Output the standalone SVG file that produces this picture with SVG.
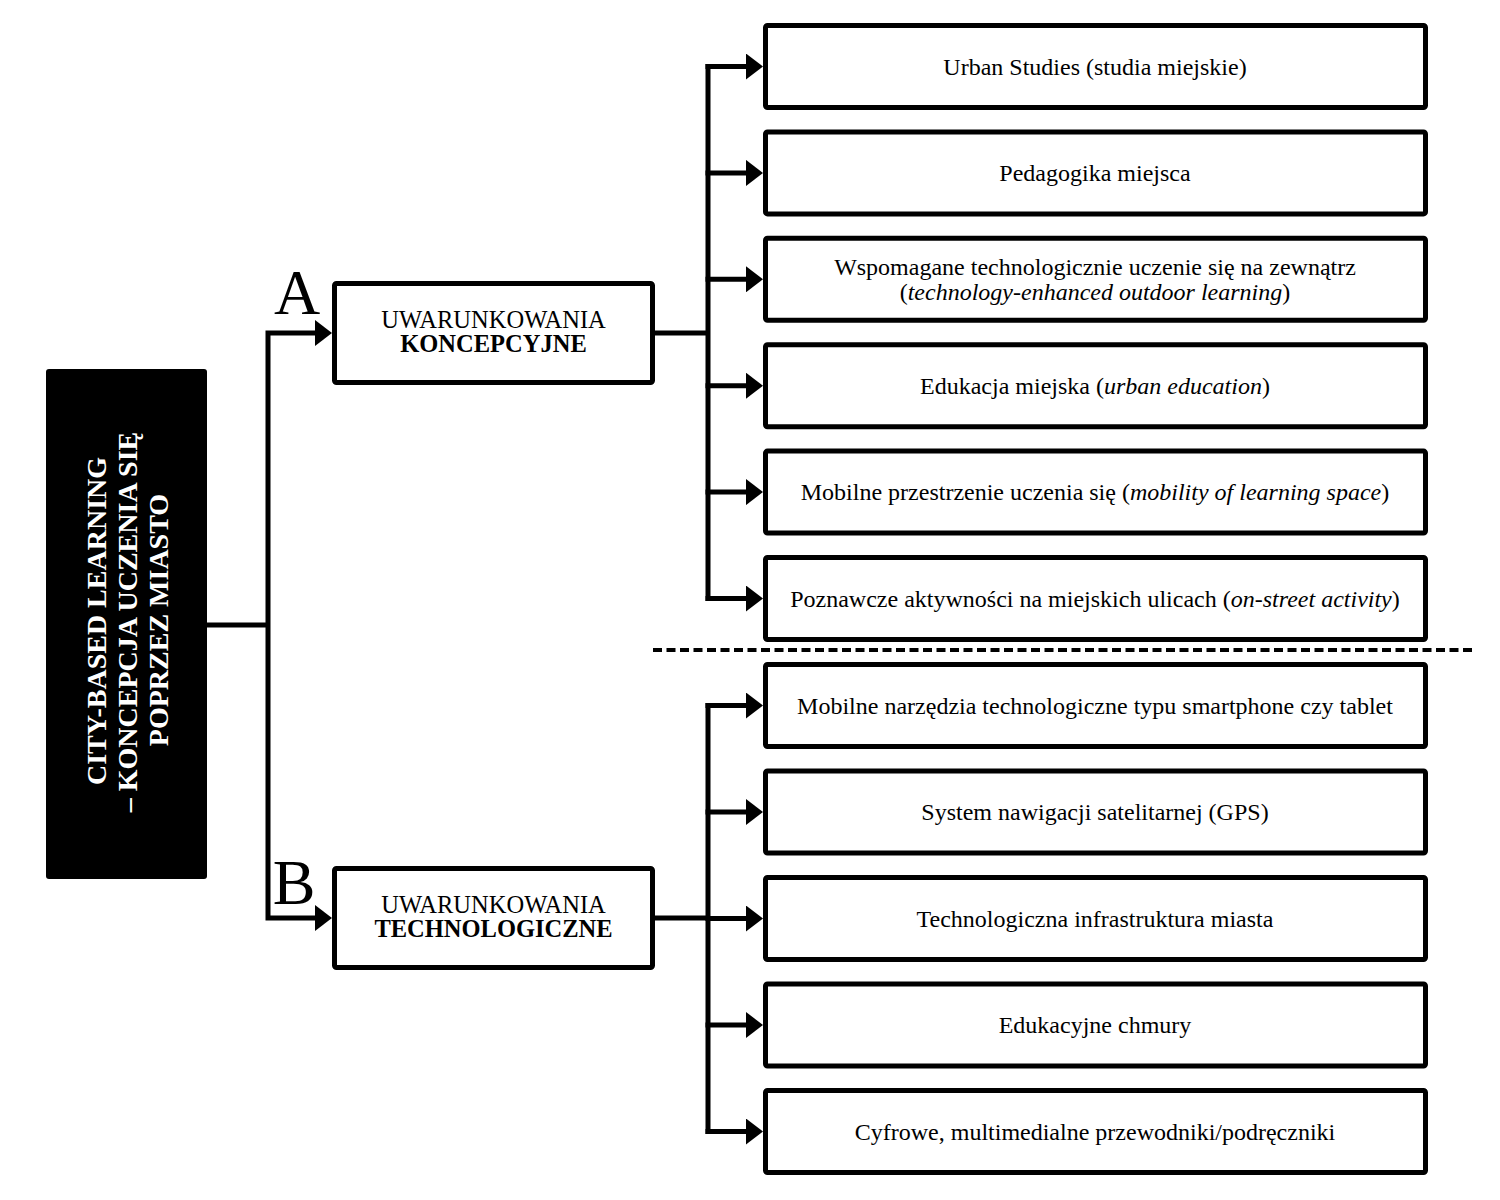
<svg xmlns="http://www.w3.org/2000/svg" width="1500" height="1200" viewBox="0 0 1500 1200">
<style>
.box{fill:#fff;stroke:#000;stroke-width:5}
.con{fill:none;stroke:#000;stroke-width:5}
.t{font-family:"Liberation Serif","Times New Roman",serif;font-size:24px;fill:#000;text-anchor:middle}
.m{font-family:"Liberation Serif","Times New Roman",serif;font-size:24.5px;fill:#000;text-anchor:middle}
.b{font-weight:bold}
.i{font-style:italic}
.big{font-family:"Liberation Serif","Times New Roman",serif;font-size:64px;fill:#000;text-anchor:middle}
.w{font-family:"Liberation Serif","Times New Roman",serif;font-size:28px;font-weight:bold;fill:#fff;text-anchor:middle}
</style>
<defs>
<marker id="arr" markerUnits="userSpaceOnUse" viewBox="0 0 17 26" refX="0" refY="13" markerWidth="17" markerHeight="26" orient="auto">
<path d="M0,0 L17,13 L0,26 z" fill="#000"/>
</marker>
</defs>
<rect width="1500" height="1200" fill="#fff"/>

<g id="connectors">
<path class="con" d="M207,625 H268"/>
<path class="con" d="M268,625 V333 H315" marker-end="url(#arr)"/>
<path class="con" d="M268,625 V918 H315" marker-end="url(#arr)"/>
<path class="con" d="M655,333 H708"/>
<path class="con" d="M708,64 V601"/>
<path class="con" d="M705.5,66.5 H746" marker-end="url(#arr)"/>
<path class="con" d="M705.5,172.9 H746" marker-end="url(#arr)"/>
<path class="con" d="M705.5,279.3 H746" marker-end="url(#arr)"/>
<path class="con" d="M705.5,385.7 H746" marker-end="url(#arr)"/>
<path class="con" d="M705.5,492.1 H746" marker-end="url(#arr)"/>
<path class="con" d="M705.5,598.5 H746" marker-end="url(#arr)"/>
<path class="con" d="M655,918 H708"/>
<path class="con" d="M708,703 V1134"/>
<path class="con" d="M705.5,705.5 H746" marker-end="url(#arr)"/>
<path class="con" d="M705.5,812 H746" marker-end="url(#arr)"/>
<path class="con" d="M705.5,918.5 H746" marker-end="url(#arr)"/>
<path class="con" d="M705.5,1025 H746" marker-end="url(#arr)"/>
<path class="con" d="M705.5,1131.5 H746" marker-end="url(#arr)"/>
</g>

<g id="divider">
<path d="M653,650 H1473" fill="none" stroke="#000" stroke-width="4" stroke-dasharray="9 4.5"/>
</g>

<g id="root">
<rect x="46" y="369" width="161" height="510" rx="3" fill="#000"/>
<g transform="rotate(-90)">
<text class="w" x="-621" y="106">CITY-BASED LEARNING</text>
<text class="w" x="-622" y="137">– KONCEPCJA UCZENIA SIĘ</text>
<text class="w" x="-620" y="168">POPRZEZ MIASTO</text>
</g>
</g>

<g id="labelA"><text class="big" x="297" y="314">A</text></g>
<g id="labelB"><text class="big" x="294" y="904">B</text></g>

<g id="nodeA">
<rect class="box" x="334.5" y="283.5" width="318" height="99" rx="2"/>
<text class="m" x="493.5" y="328">UWARUNKOWANIA</text>
<text class="m b" x="493.5" y="352">KONCEPCYJNE</text>
</g>
<g id="nodeB">
<rect class="box" x="334.5" y="868.5" width="318" height="99" rx="2"/>
<text class="m" x="493.5" y="913">UWARUNKOWANIA</text>
<text class="m b" x="493.5" y="937">TECHNOLOGICZNE</text>
</g>

<g id="a1"><rect class="box" x="765.5" y="25.5" width="660" height="82" rx="2"/>
<text class="t" x="1095" y="74.5">Urban Studies (studia miejskie)</text></g>
<g id="a2"><rect class="box" x="765.5" y="131.9" width="660" height="82" rx="2"/>
<text class="t" x="1095" y="180.9">Pedagogika miejsca</text></g>
<g id="a3"><rect class="box" x="765.5" y="238.3" width="660" height="82" rx="2"/>
<text class="t" x="1095" y="275">Wspomagane technologicznie uczenie się na zewnątrz</text>
<text class="t" x="1095" y="300">(<tspan class="i">technology-enhanced outdoor learning</tspan>)</text></g>
<g id="a4"><rect class="box" x="765.5" y="344.7" width="660" height="82" rx="2"/>
<text class="t" x="1095" y="393.7">Edukacja miejska (<tspan class="i">urban education</tspan>)</text></g>
<g id="a5"><rect class="box" x="765.5" y="451.1" width="660" height="82" rx="2"/>
<text class="t" x="1095" y="500.1">Mobilne przestrzenie uczenia się (<tspan class="i">mobility of learning space</tspan>)</text></g>
<g id="a6"><rect class="box" x="765.5" y="557.5" width="660" height="82" rx="2"/>
<text class="t" x="1095" y="606.5">Poznawcze aktywności na miejskich ulicach (<tspan class="i">on-street activity</tspan>)</text></g>

<g id="b1"><rect class="box" x="765.5" y="664.5" width="660" height="82" rx="2"/>
<text class="t" x="1095" y="713.5">Mobilne narzędzia technologiczne typu smartphone czy tablet</text></g>
<g id="b2"><rect class="box" x="765.5" y="771" width="660" height="82" rx="2"/>
<text class="t" x="1095" y="820">System nawigacji satelitarnej (GPS)</text></g>
<g id="b3"><rect class="box" x="765.5" y="877.5" width="660" height="82" rx="2"/>
<text class="t" x="1095" y="926.5">Technologiczna infrastruktura miasta</text></g>
<g id="b4"><rect class="box" x="765.5" y="984" width="660" height="82" rx="2"/>
<text class="t" x="1095" y="1033">Edukacyjne chmury</text></g>
<g id="b5"><rect class="box" x="765.5" y="1090.5" width="660" height="82" rx="2"/>
<text class="t" x="1095" y="1139.5">Cyfrowe, multimedialne przewodniki/podręczniki</text></g>
</svg>
